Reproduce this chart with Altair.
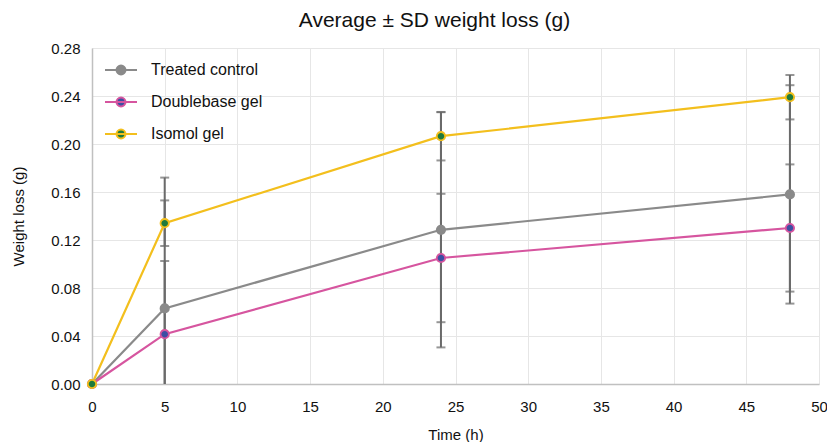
import altair as alt
import pandas as pd

time_h = [0, 5, 24, 48]
series_names = ["Treated control", "Doublebase gel", "Isomol gel"]
treated_mean = [0.0, 0.063, 0.1285, 0.158]
treated_sd = [0.0, 0.109, 0.098, 0.091]
doublebase_mean = [0.0, 0.0415, 0.105, 0.130]
doublebase_sd = [0.0, 0.061, 0.0535, 0.053]
isomol_mean = [0.0, 0.134, 0.2065, 0.239]
isomol_sd = [0.0, 0.019, 0.0202, 0.0185]

line_colors = ["#8a8a8a", "#d6559f", "#f3bf1d"]
fill_colors = ["#8a8a8a", "#3c4fa3", "#1e7a3c"]

rows = []
for name, means, sds in zip(series_names,
                            [treated_mean, doublebase_mean, isomol_mean],
                            [treated_sd, doublebase_sd, isomol_sd]):
    for t, m, s in zip(time_h, means, sds):
        rows.append({"series": name, "time": t, "mean": m, "lo": m - s, "hi": m + s})
df = pd.DataFrame(rows)

err = df[df["time"] > 0]

xscale = alt.Scale(domain=[0, 50], nice=False)
yscale = alt.Scale(domain=[0, 0.28], nice=False)
stroke_scale = alt.Scale(domain=series_names, range=line_colors)
fill_scale = alt.Scale(domain=series_names, range=fill_colors)

sym = "M-1,0L1,0M-0.28,0A0.28,0.28,0,1,0,0.28,0A0.28,0.28,0,1,0,-0.28,0Z"
leg = alt.Legend(title=None, orient="none", legendX=12, legendY=5,
                 symbolType=sym, symbolSize=1024, symbolStrokeWidth=2,
                 labelFont="Liberation Sans", labelFontSize=16, labelColor="#111",
                 labelOffset=13, rowPadding=6, symbolOpacity=1, labelLimit=300)

x_enc = alt.X("time:Q", scale=xscale,
              axis=alt.Axis(title="Time (h)", values=list(range(0, 51, 5)), format="d",
                            labelFlush=False))
y_enc = alt.Y("mean:Q", scale=yscale,
              axis=alt.Axis(title="Weight loss (g)",
                            values=[0, 0.04, 0.08, 0.12, 0.16, 0.20, 0.24, 0.28], format=".2f",
                            labelFlush=False))

rules = alt.Chart(err).mark_rule(color="#6a6a6a", strokeWidth=2, clip=True).encode(
    x=alt.X("time:Q", scale=xscale),
    y=alt.Y("lo:Q", scale=yscale),
    y2="hi:Q",
)
cap_hi = alt.Chart(err).mark_tick(color="#6a6a6a", orient="horizontal", size=9,
                                  thickness=2, clip=True).encode(
    x=alt.X("time:Q", scale=xscale), y=alt.Y("hi:Q", scale=yscale))
cap_lo = alt.Chart(err).mark_tick(color="#6a6a6a", orient="horizontal", size=9,
                                  thickness=2, clip=True).encode(
    x=alt.X("time:Q", scale=xscale), y=alt.Y("lo:Q", scale=yscale))

lines = alt.Chart(df).mark_line(strokeWidth=2.2).encode(
    x=x_enc, y=y_enc,
    stroke=alt.Stroke("series:N", scale=stroke_scale, legend=leg),
    order="time:Q",
)
points = alt.Chart(df).mark_point(filled=False, size=70, strokeWidth=1.8, opacity=1).encode(
    x=x_enc, y=y_enc,
    stroke=alt.Stroke("series:N", scale=stroke_scale, legend=leg),
    fill=alt.Fill("series:N", scale=fill_scale, legend=leg),
)

chart = alt.layer(rules, cap_hi, cap_lo, lines, points).properties(
    width=727, height=336,
    title=alt.TitleParams("Average ± SD weight loss (g)", font="Liberation Sans",
                          fontSize=21, fontWeight="normal", color="#111",
                          anchor="middle", dx=-21, offset=10),
    autosize=alt.AutoSizeParams(type="none"),
    padding={"left": 84, "top": 40, "right": 8, "bottom": 58},
).configure_view(stroke=None).configure_axis(
    labelFont="Liberation Sans", labelFontSize=15, labelColor="#111",
    titleFont="Liberation Sans", titleFontSize=15, titleFontWeight="normal", titleColor="#111",
    gridColor="#e6e6e6", gridWidth=1, domainColor="#c0c0c0", domainWidth=1.5,
    ticks=False,
).configure_axisX(labelPadding=15, titlePadding=13).configure_axisY(
    labelPadding=12, titlePadding=24)

chart.save("out.html", embed_options={"renderer": "svg", "actions": False})
